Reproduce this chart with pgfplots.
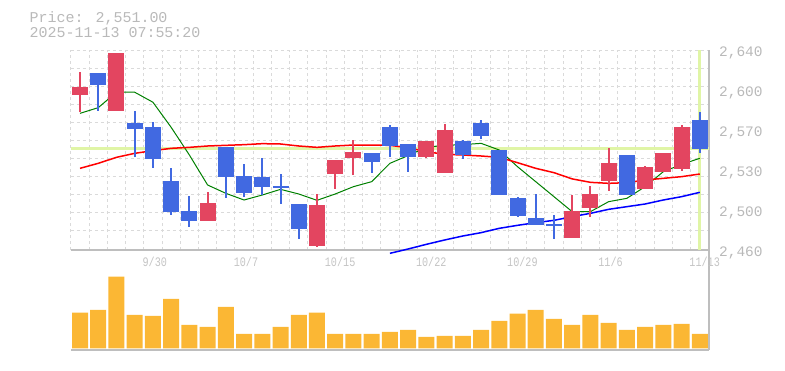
\documentclass[border=0pt]{standalone}
\usepackage{pgfplots}
\pgfplotsset{compat=1.18}
\usepackage{pgfplotstable}
\usepackage{fontspec}
\setmainfont{Liberation Mono}
\newfontfamily\datefont[FakeStretch=0.78]{Liberation Mono}

\definecolor{cRed}{RGB}{227,69,96}
\definecolor{cBlue}{RGB}{65,105,225}
\definecolor{cVol}{RGB}{251,183,52}
\definecolor{cGrid}{RGB}{218,218,218}
\definecolor{cAxis}{RGB}{190,190,190}
\definecolor{cText}{RGB}{185,185,185}
\definecolor{cDate}{RGB}{196,196,196}
\definecolor{cHi}{RGB}{224,245,166}
\definecolor{cMAg}{RGB}{0,128,0}

% up candles (red): index open high low close
\pgfplotstableread{
i o h l c
0 2599.5 2620.2 2583.9 2606.7
2 2585.4 2637.3 2585.4 2637.3
7 2486.1 2512.2 2486.1 2502.3
13 2463.6 2510.4 2462.7 2500.5
14 2528.7 2541.0 2515.2 2541.0
15 2543.1 2559.0 2527.5 2548.2
19 2544.0 2558.1 2542.8 2558.1
20 2529.6 2573.4 2529.6 2568.0
27 2471.1 2509.5 2471.1 2495.1
28 2498.1 2517.9 2490.0 2510.4
29 2522.4 2552.1 2513.4 2538.3
31 2515.2 2535.6 2515.2 2534.7
32 2530.5 2547.3 2530.5 2547.3
33 2533.2 2572.5 2531.4 2570.7
}\upc

% down candles (blue)
\pgfplotstableread{
i o h l c
1 2619.3 2619.3 2585.4 2608.5
3 2574.6 2585.1 2544.0 2569.2
4 2570.7 2575.2 2534.0 2542.2
5 2522.1 2533.8 2491.5 2494.2
6 2495.1 2508.6 2480.7 2486.1
8 2552.7 2552.7 2507.1 2526.0
9 2526.6 2537.4 2508.0 2511.6
10 2525.7 2542.8 2509.2 2517.0
11 2518.0 2528.4 2501.4 2516.0
12 2501.4 2501.4 2469.9 2479.2
16 2547.3 2547.3 2529.6 2539.5
17 2570.4 2572.5 2544.0 2553.6
18 2555.4 2555.4 2530.5 2544.0
21 2558.1 2559.0 2542.2 2545.5
22 2574.3 2577.0 2560.2 2562.9
23 2550.0 2550.0 2509.8 2509.8
24 2506.8 2507.7 2490.0 2490.9
25 2488.8 2510.4 2482.8 2482.8
26 2483.7 2491.8 2470.2 2481.9
30 2545.5 2545.5 2509.8 2509.8
34 2577.0 2584.5 2547.6 2551.0
}\downc

\pgfplotstableread{
i v
0 2583.0
1 2588.1
2 2602.0
3 2602.0
4 2593.0
5 2570.4
6 2545.5
7 2518.5
8 2511.0
9 2505.0
10 2509.5
11 2514.6
12 2510.4
13 2504.7
14 2510.4
15 2517.0
16 2521.5
17 2538.0
18 2545.0
19 2552.4
20 2554.2
21 2554.8
22 2556.0
23 2550.0
24 2535.0
25 2521.5
26 2508.0
27 2494.5
28 2494.5
29 2503.5
30 2506.5
31 2517.0
32 2530.5
33 2537.0
34 2542.5
}\maG

\pgfplotstableread{
i v
0 2533.5
1 2538.0
2 2543.4
3 2547.0
4 2549.4
5 2551.5
6 2552.4
7 2553.6
8 2554.2
9 2554.8
10 2555.7
11 2555.4
12 2553.6
13 2552.4
14 2553.6
15 2554.5
16 2554.5
17 2554.2
18 2552.0
19 2548.5
20 2546.1
21 2545.5
22 2544.6
23 2543.4
24 2538.6
25 2533.5
26 2529.6
27 2524.0
28 2520.9
29 2520.0
30 2520.6
31 2523.0
32 2524.5
33 2526.0
34 2528.4
}\maR

\pgfplotstableread{
i v
17 2457.0
18 2460.9
19 2465.1
20 2469.0
21 2472.6
22 2475.6
23 2479.5
24 2482.2
25 2484.6
26 2486.7
27 2490.0
28 2493.0
29 2496.6
30 2499.0
31 2501.4
32 2505.0
33 2508.0
34 2511.9
}\maB

\pgfplotstableread{
i v
0 35.7
1 38.3
2 71.7
3 33.3
4 32.3
5 49.3
6 23.3
7 21.3
8 41.3
9 14.3
10 14.3
11 21.3
12 33.3
13 35.7
14 14.3
15 14.3
16 14.3
17 16.3
18 18.3
19 11.3
20 12.3
21 12.3
22 18.3
23 27.3
24 34.7
25 38.3
26 29.3
27 23.3
28 33.3
29 25.3
30 18.3
31 21.3
32 23.3
33 24.3
34 14.3
}\vol

\pgfplotsset{
  candle/.style n args={1}{draw=none, mark=none, forget plot,
    error bars/.cd, y dir=both, y explicit, error mark=none,
    error bar style={#1}},
}

\begin{document}
\begin{tikzpicture}
\useasboundingbox (0pt,0pt) rectangle (785pt,370pt);

\node[anchor=base west, inner sep=0pt, text=cText, font=\fontsize{15}{15}\selectfont] at (29.3pt,347.3pt) {Price: 2,551.00};
\node[anchor=base west, inner sep=0pt, text=cText, font=\fontsize{15}{15}\selectfont] at (29.3pt,332.3pt) {2025-11-13 07:55:20};

% volume panel
\begin{axis}[
  at={(70.9pt,20pt)}, anchor=south west,
  scale only axis, width=638pt, height=100pt,
  xmin=-0.5, xmax=34.5, ymin=-1.7, ymax=98.3,
  axis x line*=bottom, axis y line*=right,
  axis line style={draw=cAxis, line width=1.5pt, -},
  xtick=\empty, ytick=\empty,
  minor xtick={-0.5,0.5,...,33.5},
  xminorgrids=true,
  minor tick length=0pt, major tick length=0pt,
  minor grid style={draw=cGrid, line width=1pt, dash pattern=on 3pt off 3pt},
]
\addplot[ybar, bar width=16pt, fill=cVol, draw=none] table[x=i, y=v] {\vol};
\end{axis}

% price panel
\begin{axis}[
  at={(70.9pt,120pt)}, anchor=south west,
  scale only axis, width=638pt, height=200pt,
  xmin=-0.5, xmax=34.5, ymin=2460, ymax=2640,
  clip=false,
  axis x line*=bottom, axis y line*=right,
  axis line style={draw=cAxis, line width=1.5pt, -},
  xtick={4,9,14,19,24,29,34},
  xticklabels={9/30,10/7,10/15,10/22,10/29,11/6,11/13},
  ytick={2460,2496,2532,2568,2604,2640},
  yticklabels={{2,460},{2,500},{2,530},{2,570},{2,600},{2,640}},
  minor xtick={-0.5,0.5,...,33.5},
  minor ytick={2478,2494.2,2510.4,2526.6,2542.8,2559,2575.2,2591.4,2607.6,2623.8,2640},
  xminorgrids=true, yminorgrids=true,
  minor tick length=0pt, major tick length=0pt,
  minor grid style={draw=cGrid, line width=1pt, dash pattern=on 3pt off 3pt},
  yticklabel style={font=\fontsize{14.5}{15}\selectfont, text=cText, anchor=base west, inner sep=0pt, xshift=10pt, yshift=-6.7pt},
  xticklabel style={font=\datefont\fontsize{13}{13}\selectfont, text=cDate, anchor=base west, inner sep=0pt, xshift=-10.5pt, yshift=-16pt},
]
\addplot[cHi, line width=3pt, forget plot] coordinates {(-0.5,2551) (34.5,2551)};
\addplot[cHi, line width=3pt, forget plot] coordinates {(34,2460) (34,2640)};

\addplot[cMAg, line width=1pt] table[x=i, y=v] {\maG};
\addplot[red, line width=1.5pt] table[x=i, y=v] {\maR};
\addplot[blue, line width=1.5pt] table[x=i, y=v] {\maB};

% wicks
\addplot[candle={draw=cRed, line width=2pt}]
  table[x=i, y expr={(\thisrow{h}+\thisrow{l})/2}, y error expr={(\thisrow{h}-\thisrow{l})/2}] {\upc};
\addplot[candle={draw=cBlue, line width=2pt}]
  table[x=i, y expr={(\thisrow{h}+\thisrow{l})/2}, y error expr={(\thisrow{h}-\thisrow{l})/2}] {\downc};
% bodies
\addplot[candle={draw=cRed, line width=16pt}]
  table[x=i, y expr={(\thisrow{o}+\thisrow{c})/2}, y error expr={abs(\thisrow{c}-\thisrow{o})/2}] {\upc};
\addplot[candle={draw=cBlue, line width=16pt}]
  table[x=i, y expr={(\thisrow{o}+\thisrow{c})/2}, y error expr={abs(\thisrow{c}-\thisrow{o})/2}] {\downc};
\end{axis}
\end{tikzpicture}
\end{document}
